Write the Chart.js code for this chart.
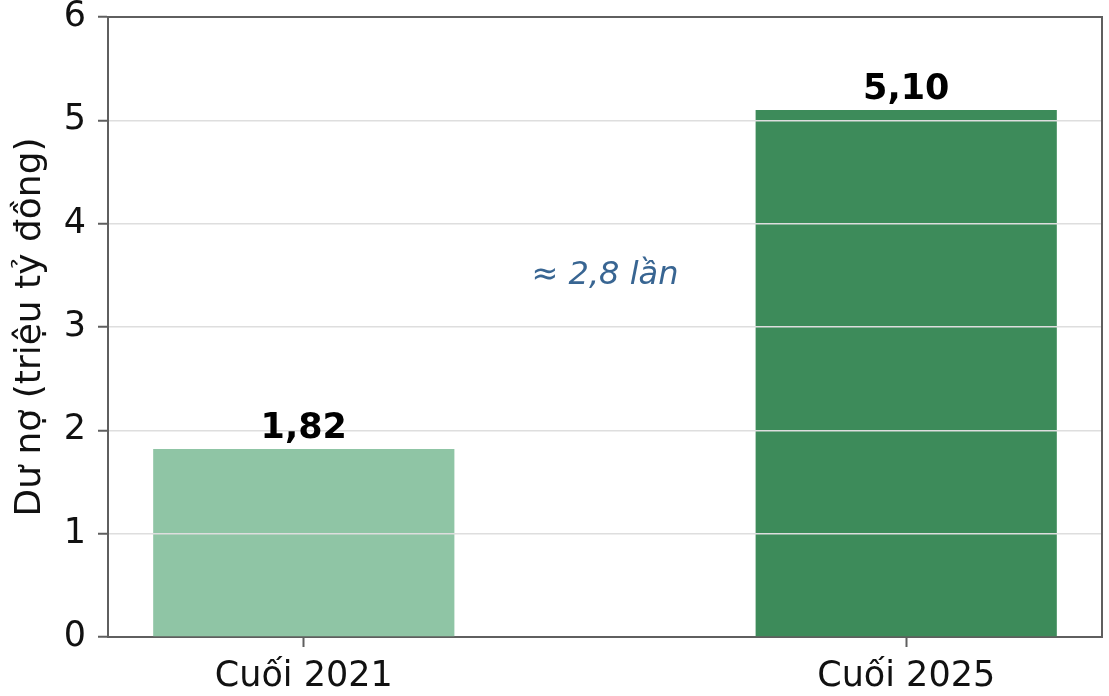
<!DOCTYPE html>
<html lang="vi">
<head>
<meta charset="utf-8">
<title>Dư nợ</title>
<script src="https://cdn.jsdelivr.net/npm/chart.js@4.4.1/dist/chart.umd.min.js"></script>
<style>
  html, body { margin: 0; padding: 0; background: #fff; }
  #wrap { width: 1109px; height: 696px; position: relative; }
</style>
</head>
<body>
<div id="wrap"><canvas id="myChart"></canvas></div>
<script>
// du lieu
const categories = ['Cuối 2021', 'Cuối 2025'];
const positions = [0, 1];
const values = [1.82, 5.10];
const barColours = ['rgb(143, 197, 165)', 'rgb(61, 139, 90)'];
const yTicks = [0, 1, 2, 3, 4, 5, 6];
const ratioText = '≈ 2,8 lần';
const ratioAt = { x: 0.5, y: 3.5 };

const fontFamily = '"DejaVu Sans", Verdana, sans-serif';
const spineColour = '#5f5f5f';
const gridColour = '#dedede';

const dataPoints = positions.map((p, i) => ({ x: p, y: values[i] }));

// so tren cot + chu thich (ve sau luoi)
const labelsPlugin = {
    id: 'labelsPlugin',
    afterDraw(chart) {
        const { ctx, scales } = chart;
        const meta = chart.getDatasetMeta(0);
        ctx.save();
        ctx.fillStyle = '#000';
        ctx.font = 'bold 35px ' + fontFamily;
        ctx.textAlign = 'center';
        ctx.textBaseline = 'alphabetic';
        meta.data.forEach((bar, i) => {
            ctx.fillText(values[i].toFixed(2).replace('.', ','), bar.x, bar.y - 11);
        });
        ctx.fillStyle = '#386592';
        ctx.font = 'italic 32px ' + fontFamily;
        ctx.textBaseline = 'middle';
        ctx.fillText(ratioText, scales.x.getPixelForValue(ratioAt.x), scales.y.getPixelForValue(ratioAt.y));
        ctx.restore();
    }
};

// khung tren va ben phai
const framePlugin = {
    id: 'framePlugin',
    afterDraw(chart) {
        const { ctx, chartArea } = chart;
        ctx.save();
        ctx.strokeStyle = spineColour;
        ctx.lineWidth = 2;
        ctx.beginPath();
        ctx.moveTo(chartArea.left, chartArea.top);
        ctx.lineTo(chartArea.right, chartArea.top);
        ctx.lineTo(chartArea.right, chartArea.bottom);
        ctx.stroke();
        ctx.restore();
    }
};

const ctx = document.getElementById('myChart').getContext('2d');

const myChart = new Chart(ctx, {
    type: 'bar',
    data: {
        datasets: [{
            label: 'Dư nợ',
            data: dataPoints,
            backgroundColor: barColours,
            borderWidth: 0,
            barPercentage: 0.5,
            categoryPercentage: 1,
        }]
    },
    options: {
        responsive: true,
        maintainAspectRatio: false,
        animation: false,
        devicePixelRatio: 1,
        layout: { padding: { top: 0, right: 7, left: 0, bottom: 0 } },
        plugins: {
            legend: { display: false },
            tooltip: { enabled: false },
        },
        scales: {
            x: {
                type: 'linear',
                offset: false,
                min: -0.325,
                max: 1.325,
                afterBuildTicks: (scale) => {
                    scale.ticks = positions.map(p => ({ value: p }));
                },
                afterFit: (scale) => { scale.height = 59; },
                ticks: {
                    callback: (v) => categories[positions.indexOf(v)],
                    font: { family: fontFamily, size: 35 },
                    color: '#111',
                    padding: 9,
                    maxRotation: 0,
                    autoSkip: false,
                },
                grid: {
                    offset: false,
                    drawOnChartArea: false,
                    drawTicks: true,
                    tickLength: 10,
                    tickColor: spineColour,
                    tickWidth: 2,
                },
                border: { display: true, color: spineColour, width: 2 },
            },
            y: {
                min: 0,
                max: 6,
                afterBuildTicks: (scale) => {
                    scale.ticks = yTicks.map(v => ({ value: v }));
                },
                afterFit: (scale) => {
                    scale.width = 108;
                    scale.paddingTop = 17;
                    scale.paddingBottom = 0;
                },
                ticks: {
                    font: { family: fontFamily, size: 35 },
                    color: '#111',
                    padding: 12,
                },
                grid: {
                    z: 1,
                    color: (c) => (c.tick && (c.tick.value === 0 || c.tick.value === 6)) ? 'rgba(0,0,0,0)' : gridColour,
                    lineWidth: 1.5,
                    tickLength: 10,
                    tickColor: spineColour,
                    tickWidth: 2,
                },
                border: { display: true, color: spineColour, width: 2, z: 1 },
                title: {
                    display: true,
                    text: 'Dư nợ (triệu tỷ đồng)',
                    font: { family: fontFamily, size: 36 },
                    color: '#111',
                    padding: { top: 9, bottom: 0 },
                },
            }
        }
    },
    plugins: [labelsPlugin, framePlugin],
});
</script>
</body>
</html>
